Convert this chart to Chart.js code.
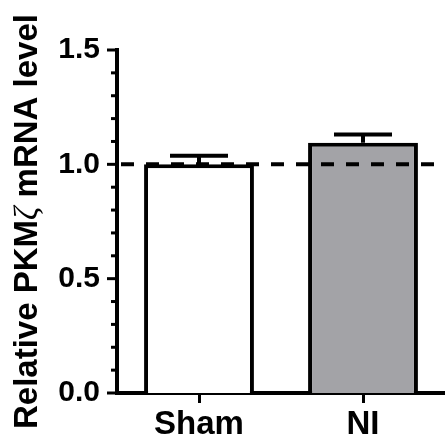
<!DOCTYPE html>
<html>
<head>
<meta charset="utf-8">
<script src="https://cdn.jsdelivr.net/npm/chart.js@4.4.0/dist/chart.umd.min.js"></script>
<style>
  html, body { margin: 0; padding: 0; background: #ffffff; }
  #wrap { width: 445px; height: 447px; }
</style>
</head>
<body>
<div id="wrap"><canvas id="barChart" width="445" height="447"></canvas></div>
<script>
/* --------------- Data --------------------- */
const groups = ["Sham", "NI"];
const means = [1.0, 1.094];
const errors = [0.038, 0.037];
const barColors = ["#ffffff", "#a3a3a7"];
const majorTicks = [0, 0.5, 1.0, 1.5];
const refLine = 1.0;
/* title pieces: [text, font] so the zeta can be italic */
const yTitle = [
  ["Relative PKM", "bold 33px 'Liberation Sans'"],
  ["ζ", "italic 33px 'Liberation Serif'"],
  [" mRNA level", "bold 33px 'Liberation Sans'"],
];

/* --------------- Error Bars --------------------- */
const errorBars = {
  id: "errorBars",
  afterDatasetsDraw(chart) {
    const ctx = chart.ctx;
    const yScale = chart.scales.y;
    const meta = chart.getDatasetMeta(0);
    ctx.save();
    ctx.strokeStyle = "#000000";
    ctx.lineWidth = 4;
    meta.data.forEach((bar, i) => {
      const top = yScale.getPixelForValue(means[i] + errors[i]);
      ctx.beginPath();
      ctx.moveTo(bar.x, bar.y);
      ctx.lineTo(bar.x, top);
      ctx.moveTo(bar.x - 29, top);
      ctx.lineTo(bar.x + 29, top);
      ctx.stroke();
    });
    ctx.restore();
  },
};

/* --------------- Y Ticks, Dashed Line, Title --------------------- */
const extras = {
  id: "extras",
  afterDraw(chart) {
    const ctx = chart.ctx;
    const yScale = chart.scales.y;
    const area = chart.chartArea;
    ctx.save();
    ctx.strokeStyle = "#000000";
    ctx.lineWidth = 3;
    yScale.ticks.forEach((t) => {
      const y = yScale.getPixelForValue(t.value);
      const major = majorTicks.some((m) => Math.abs(m - t.value) < 1e-6);
      ctx.beginPath();
      ctx.moveTo(area.left - (major ? 10 : 6), y);
      ctx.lineTo(area.left, y);
      ctx.stroke();
    });
    const yRef = yScale.getPixelForValue(refLine);
    ctx.lineWidth = 4;
    ctx.setLineDash([13, 12]);
    ctx.beginPath();
    ctx.moveTo(area.left + 4, yRef);
    ctx.lineTo(area.right, yRef);
    ctx.stroke();
    ctx.restore();

    // rotated axis title
    ctx.save();
    ctx.fillStyle = "#000000";
    ctx.textBaseline = "middle";
    ctx.textAlign = "left";
    ctx.translate(28, (area.top + area.bottom) / 2);
    ctx.rotate(-Math.PI / 2);
    let total = 0;
    yTitle.forEach(([s, f]) => { ctx.font = f; total += ctx.measureText(s).width; });
    let x = -total / 2;
    yTitle.forEach(([s, f]) => {
      ctx.font = f;
      ctx.fillText(s, x, 0);
      x += ctx.measureText(s).width;
    });
    ctx.restore();
  },
};

/* --------------- Chart --------------------- */
let barChart = new Chart(document.getElementById("barChart"), {
  type: "bar",
  plugins: [errorBars, extras],
  data: {
    labels: groups,
    datasets: [
      {
        data: means,
        backgroundColor: barColors,
        borderColor: "#000000",
        borderWidth: 4,
        categoryPercentage: 1,
        barPercentage: 0.67,
      },
    ],
  },
  options: {
    responsive: false,
    animation: false,
    layout: { padding: { top: 50, right: 0, left: 0, bottom: 0 } },
    plugins: {
      legend: { display: false },
      tooltip: { enabled: false },
    },
    scales: {
      x: {
        afterFit: (scale) => { scale.height = 54; },
        grid: {
          offset: false,
          drawOnChartArea: false,
          color: "#000000",
          lineWidth: 3,
          tickLength: 10,
        },
        border: { color: "#000000", width: 4 },
        ticks: {
          color: "#000000",
          padding: 2,
          font: { family: "Liberation Sans", size: 33, weight: "bold" },
        },
      },
      y: {
        min: 0,
        max: 1.5,
        afterFit: (scale) => { scale.width = 117; },
        grid: { display: false, drawTicks: false },
        border: { color: "#000000", width: 4 },
        ticks: {
          stepSize: 0.1,
          autoSkip: false,
          padding: 17,
          color: "#000000",
          font: { family: "Liberation Sans", size: 30, weight: "bold" },
          callback: (v) =>
            majorTicks.some((m) => Math.abs(m - v) < 1e-6) ? v.toFixed(1) : "",
        },
      },
    },
  },
});
</script>
</body>
</html>
